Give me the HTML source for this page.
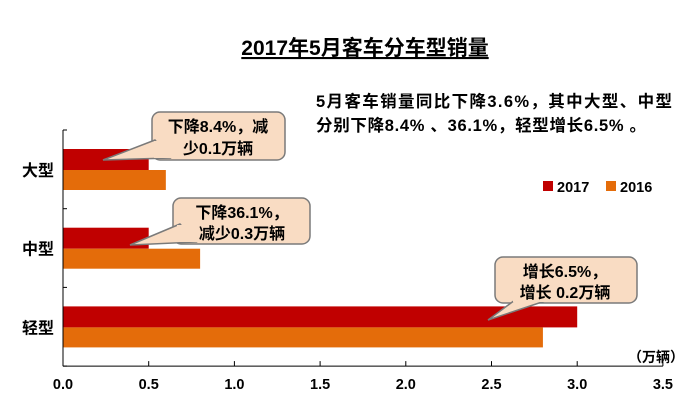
<!DOCTYPE html>
<html><head><meta charset="utf-8"><style>
body{margin:0;background:#fff;}
svg{display:block;font-family:"Liberation Sans","Noto Sans CJK SC",sans-serif;font-weight:bold;}
</style></head><body>
<svg width="698" height="411" id="c">
<text x="365" y="55" text-anchor="middle" font-size="21" text-decoration="underline">2017年5月客车分车型销量</text>
<text x="316" y="107" font-size="16.5" textLength="356">5月客车销量同比下降3.6%，其中大型、中型</text>
<text x="316" y="131" font-size="16.5" textLength="330">分别下降8.4% 、36.1%，轻型增长6.5% 。</text>
<g id="bars"></g>
<g id="axes"></g>
<text x="628" y="362" font-size="14">（万辆）</text>
<rect x="543" y="181" width="10" height="10" fill="#c00000"/>
<text x="557" y="192" font-size="14.5">2017</text>
<rect x="606" y="181" width="10" height="10" fill="#e46c0a"/>
<text x="620" y="192" font-size="14.5">2016</text>
<g>
<rect x="152" y="112" width="133" height="48" rx="8" fill="#f9dcc3" stroke="#7a7a7a" stroke-width="1.5"/>
<polygon points="155,140 103,160 170,158" fill="#f9dcc3" stroke="#7a7a7a" stroke-width="1.5"/>
<rect x="154" y="141" width="20" height="17" fill="#f9dcc3"/>
<text x="218" y="132" text-anchor="middle" font-size="16">下降8.4%，减</text>
<text x="218" y="154" text-anchor="middle" font-size="16">少0.1万辆</text>
</g>
<g>
<rect x="173" y="198" width="137" height="46" rx="8" fill="#f9dcc3" stroke="#7a7a7a" stroke-width="1.5"/>
<polygon points="180,224 130,245 196,242" fill="#f9dcc3" stroke="#7a7a7a" stroke-width="1.5"/>
<rect x="177" y="225" width="22" height="17" fill="#f9dcc3"/>
<text x="242" y="218" text-anchor="middle" font-size="16">下降36.1%，</text>
<text x="242" y="239" text-anchor="middle" font-size="16">减少0.3万辆</text>
</g>
<g>
<rect x="495" y="257" width="142" height="46" rx="8" fill="#f9dcc3" stroke="#7a7a7a" stroke-width="1.5"/>
<polygon points="515,300 488,320 548,300" fill="#f9dcc3" stroke="#7a7a7a" stroke-width="1.5"/>
<rect x="513" y="296" width="38" height="6" fill="#f9dcc3"/>
<text x="565" y="277" text-anchor="middle" font-size="16">增长6.5%，</text>
<text x="565" y="298" text-anchor="middle" font-size="16">增长 0.2万辆</text>
</g>
</svg>
<script>
const categories=["大型","中型","轻型"];
const values2017=[0.5,0.5,3.0];
const values2016=[0.6,0.8,2.8];
const xTicks=[0,0.5,1.0,1.5,2.0,2.5,3.0,3.5];
const NS="http://www.w3.org/2000/svg";
const x0=63,xScale=171.4,yTop=130,band=78.7;
const xs=v=>x0+v*xScale;
const bars=document.getElementById('bars'),axes=document.getElementById('axes');
function mk(tag,attrs,parent){const e=document.createElementNS(NS,tag);for(const k in attrs)e.setAttribute(k,attrs[k]);parent.appendChild(e);return e;}
categories.forEach((c,i)=>{
 const top=yTop+i*band+19;
 const r1=mk('rect',{x:x0,y:top,width:xs(values2017[i])-x0,height:21,fill:'#c00000'},bars);
 
 
 const r2=mk('rect',{x:x0,y:top+21,width:xs(values2016[i])-x0,height:20,fill:'#e46c0a'},bars);
 
 
 const t=mk('text',{x:38,y:top+27,'text-anchor':'middle','font-size':16},axes);
 t.textContent=c;
 
 
});
const yBot=yTop+band*3;
const ya=mk('line',{x1:x0,y1:yTop,x2:x0,y2:yBot,stroke:'#000','stroke-width':1},axes);


for(let i=0;i<=3;i++)mk('line',{x1:x0,y1:yTop+i*band,x2:x0+4,y2:yTop+i*band,stroke:'#000'},axes);
const xa=mk('line',{x1:x0,y1:yBot,x2:xs(3.5),y2:yBot,stroke:'#000','stroke-width':1},axes);


xTicks.forEach(v=>{
 mk('line',{x1:xs(v),y1:yBot,x2:xs(v),y2:yBot-5,stroke:'#000'},axes);
 const t=mk('text',{x:xs(v),y:yBot+23,'text-anchor':'middle','font-size':14.5},axes);
 t.textContent=v.toFixed(1);
 
 
});
</script>
</body></html>
